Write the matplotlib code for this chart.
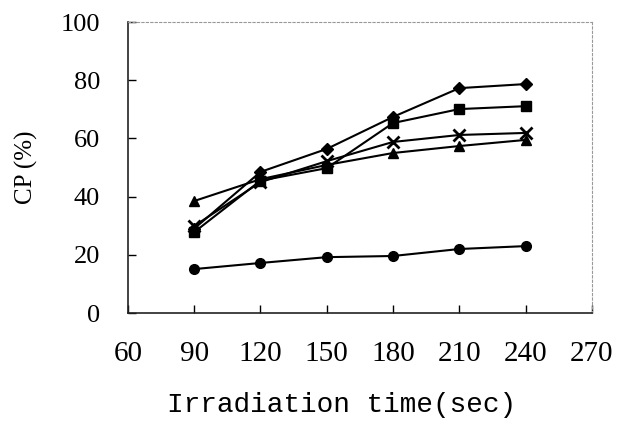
import matplotlib.pyplot as plt
import numpy as np

# irradiation times (sec)
times = [90, 120, 150, 180, 210, 240]

# CP (%) for each run
cp_diamond = [29.0, 48.5, 56.4, 67.4, 77.3, 78.7]
cp_square = [27.8, 45.5, 49.8, 65.3, 70.1, 71.1]
cp_cross = [29.9, 45.0, 52.2, 58.8, 61.2, 61.9]
cp_triangle = [38.5, 46.0, 50.9, 55.0, 57.4, 59.5]
cp_circle = [15.1, 17.2, 19.2, 19.6, 22.0, 23.0]

x_ticks = [60, 90, 120, 150, 180, 210, 240, 270]
y_ticks = [0, 20, 40, 60, 80, 100]

plt.rcParams['font.family'] = ['Liberation Serif', 'DejaVu Serif']

fig = plt.figure(figsize=(6.21, 4.25), dpi=100)
ax = fig.add_axes([0.206, 0.2635, 0.747, 0.6845])

ax.plot(times, cp_diamond, color='black', lw=1.5, marker='D', ms=6)
ax.plot(times, cp_square, color='black', lw=1.5, marker='s', ms=7)
ax.plot(times, cp_cross, color='black', lw=1.5, marker='x', ms=8, mew=2)
ax.plot(times, cp_triangle, color='black', lw=1.5, marker='^', ms=7)
ax.plot(times, cp_circle, color='black', lw=1.5, marker='o', ms=7)

ax.set_xlim(60, 270)
ax.set_ylim(0, 100)
ax.set_xticks(x_ticks)
ax.set_yticks(y_ticks)
ax.tick_params(direction='in', length=6, width=1)
ax.tick_params(axis='y', labelsize=19, pad=20)
ax.tick_params(axis='x', labelsize=21, pad=20)

for side in ['top', 'right']:
    ax.spines[side].set_linestyle((0, (2, 2)))
    ax.spines[side].set_color('#999999')
    ax.spines[side].set_linewidth(0.8)
for side in ['left', 'bottom']:
    ax.spines[side].set_color('#222222')
    ax.spines[side].set_linewidth(1.2)

ax.set_ylabel('CP (%)', fontsize=18, labelpad=16)
ax.set_xlabel('Irradiation time(sec)', fontsize=20, labelpad=16,
              family=['Liberation Mono', 'DejaVu Sans Mono'])
ax.xaxis.set_label_coords(0.46, -0.27)

fig.savefig('out.png', dpi=100)
